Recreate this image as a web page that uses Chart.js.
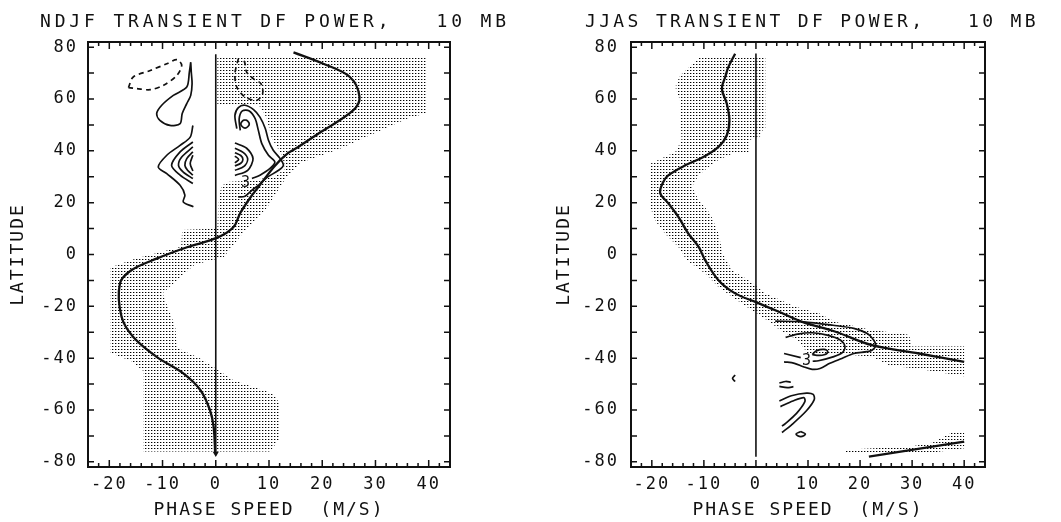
<!DOCTYPE html>
<html>
<head>
<meta charset="utf-8">
<script src="https://cdn.jsdelivr.net/npm/chart.js@4.4.1/dist/chart.umd.min.js"></script>
<style>
html,body{margin:0;padding:0;background:#fff;}
#wrap{position:relative;width:1061px;height:522px;overflow:hidden;background:#fff;}
.pane{position:absolute;top:0;height:522px;}
#pL{left:0;width:530px;}
#pR{left:530px;width:531px;}
canvas{display:block;}
</style>
</head>
<body>
<div id="wrap">
  <div class="pane" id="pL"><canvas id="cL" width="530" height="522"></canvas></div>
  <div class="pane" id="pR"><canvas id="cR" width="531" height="522"></canvas></div>
</div>
<script>
// ---------- axis tick values ----------
const xTickValues = [-20, -10, 0, 10, 20, 30, 40];
const yTickValues = [-80, -60, -40, -20, 0, 20, 40, 60, 80];
const xMinorTicks = [-22, -20, -18, -16, -14, -12, -10, -8, -6, -4, -2, 0, 2, 4, 6, 8, 10, 12, 14, 16, 18, 20, 22, 24, 26, 28, 30, 32, 34, 36, 38, 40, 42];
const yMinorTicks = [-80, -70, -60, -50, -40, -30, -20, -10, 0, 10, 20, 30, 40, 50, 60, 70, 80];

// ---------- NDJF panel (phase speed m/s, latitude) ----------
const ndjfZeroWind = [[-0.1,-77],[-0.4,-66.5],[-1.1,-60],[-2.9,-52.3],[-6.1,-45.9],[-11.1,-39.5],[-15.5,-31.8],[-17.7,-24],[-18,-11.2],[-15.8,-6],[-11,-1.5],[-5.4,2.8],[0.3,6.5],[3.3,10.5],[4.6,16],[6.5,22],[8,26],[11,34],[13.5,39],[15.5,41.5],[19.3,46.7],[25.8,55.6],[27,60.8],[25.2,68.5],[20.2,73.6],[14.6,78]];
const ndjfArrow = [[0,-76.8]];
const ndjfZeroLine = [[0,-77.5],[0,77.3]];
const ndjfShade = [[0.3,76.5],[39.5,76.5],[39.5,54.5],[36,52.5],[30,47],[23,40.5],[16,35.5],[13,29],[9.6,18],[5,8],[1.5,-1],
  [-4,-4],[-10,-15],[-7.6,-28],[-7.3,-36],[-3,-40],[0,-44],[3.3,-48.5],[10.8,-53.6],[12,-57.6],[12,-71],[10.2,-76],
  [-13.6,-76],[-13.6,-45],[-16,-41],[-19.8,-38],[-19.8,-5],[-15,-1.5],[-6.5,3],[-6.3,9.5],[0.3,10],
  [0.5,20],[1,26],[2,28],[6,28.5],[11,30],[13,33],[12.5,38],[10.5,45],[9.5,53],[8,58],[0.3,58],[0.3,76.5]];
const ndjfDashWest = [[-16.4,64.4],[-15.5,68.5],[-12.3,71.0],[-9.2,73.6],[-7.3,75.2],[-6.4,73.0],[-7.3,69.1],[-9.8,65.3],[-12.3,63.6],[-14.8,64.0],[-16.4,64.4]];
const ndjfLoopWest = [[-4.7,74.2],[-4.96,70.4],[-5.45,64.6],[-7.97,61.4],[-10.15,57.6],[-11.1,54.4],[-10.5,51.8],[-8.6,49.8],[-6.7,50.5],[-6.3,54.4],[-5.45,58.2],[-4.7,61.4],[-4.45,65.9],[-4.6,70.4],[-4.7,74.2]];
const ndjfChevron1 = [[-4.3,49.8],[-4.8,45.3],[-6.7,42.1],[-9.2,38.3],[-10.8,33.8],[-9.2,31.2],[-6.7,26.7],[-5.8,22.9],[-6.1,20.3],[-4.2,18.4]];
const ndjfChevron2 = [[-4.3,43.4],[-6.7,39.6],[-8.3,34.4],[-6.7,30.6],[-4.3,27.4]];
const ndjfChevron3 = [[-4.3,41.5],[-6.4,37.6],[-7.0,34.4],[-6.1,31.8],[-4.3,29.3]];
const ndjfChevron4 = [[-4.3,39.6],[-5.45,37.0],[-5.8,34.4],[-5.3,32.5],[-4.3,30.6]];
const ndjfChevron5 = [[-4.3,38.3],[-4.8,35.1],[-4.3,32.2]];
const ndjfDashEast = [[4.25,75.6],[3.6,69.8],[3.95,64.6],[5.5,60.8],[7.7,59.5],[8.8,62.1],[8.5,65.9],[7.1,67.8],[5.8,70.4],[5.5,73.6],[5.2,75.6]];
const ndjfOuterEast = [[4.2,22.2],[5.5,22.5],[6.8,24.8],[8.0,26.7],[9.6,29.7],[11.8,32.5],[12.7,34.4],[12.1,37.0],[10.8,40.2],[9.9,44.1],[9.3,48.6],[8.3,53.0],[7.1,55.9],[5.5,57.6],[4.25,56.7],[3.6,53.7],[3.95,48.6]];
const ndjfMidEast = [[6.8,29.3],[8.3,30.6],[10.2,33.2],[11.1,35.7],[9.9,38.3],[8.65,42.8],[8.0,47.9],[7.4,52.4],[6.3,55.4],[5.0,55.4],[4.4,52.4],[4.6,47.9]];
const ndjfRingEast = [[5.5,52],[6.0,51.5],[6.3,50.4],[6.0,49.3],[5.5,48.8],[5.0,49.3],[4.7,50.4],[5.0,51.5],[5.5,52]];
const ndjfArc1 = [[3.6,43],[5.8,41],[7.0,37],[6.0,32.5],[3.6,30.5]];
const ndjfArc2 = [[3.6,41],[5.2,39.3],[6.0,36.8],[5.3,34],[3.6,32.5]];
const ndjfArc3 = [[3.6,39.3],[4.7,38.2],[5.1,36.7],[4.7,35.2],[3.6,34.2]];
const ndjfArc4 = [[3.6,38],[4.3,36.7],[3.6,35.4]];
const ndjfLabels = [{text:'3', at:[5.6,27.5]}];

// ---------- JJAS panel ----------
const jjasZeroWind = [[40,-41.4],[31.3,-38.2],[22.3,-35],[15.3,-29.8],[8.9,-26],[4.4,-22.1],[-0.1,-18.3],[-4,-15],[-7.2,-9.9],[-9.75,-2.2],[-11,2.9],[-13,8.1],[-14.9,14.5],[-16.8,19.7],[-18.4,23.7],[-17.8,28],[-16.8,30.6],[-13.6,34.4],[-10.1,37.6],[-7.2,41.5],[-5.6,46],[-5.1,51.8],[-5.6,58.2],[-6.55,64],[-5.9,68.5],[-5.3,72.3],[-4,77.5]];
const jjasSouthWind = [[21.7,-78.0],[40,-72.2]];
const jjasZeroLine = [[0,-78],[0,77.6]];
const jjasShade = [[-10.7,76.3],[1.8,76.3],[1.8,48.6],[0.85,47.3],[0.85,45.6],[-1.4,44.1],[-1.4,39.6],[-4.6,38.9],[-7.3,36.4],[-9.1,33.8],[-11.0,30.6],[-12.3,26.1],[-11.0,20.9],[-8.8,15.8],[-7.2,8.1],[-6.4,0.4],[-4.6,-6.1],[-1.4,-9.9],[1.8,-15.0],[7.6,-20.2],[12.1,-22.7],[15.3,-26.0],[22,-29],[29.4,-31],[30,-35.5],[40,-35.5],[40,-47],[32.6,-44.6],[25.6,-42.7],[22.3,-39.5],[17,-38.5],[10,-38.3],[8,-33],[4.5,-29],[3.1,-26.6],[-0.8,-21.5],[-4.6,-16.3],[-7.2,-12.5],[-9.75,-7.3],[-13.3,-2.2],[-14.9,2.9],[-17.5,8.1],[-19.4,13.2],[-20.3,18.3],[-20.3,35],[-15.5,39.6],[-14.3,44.1],[-14.6,59.5],[-15.5,64.6],[-14.6,69.1],[-10.7,76.3]];
const jjasShadeSouth = [[17.2,-75.3],[30,-74],[34,-72.5],[37.5,-68.8],[40,-68.5],[40,-74.8],[33,-76.7],[17.2,-76.7],[17.2,-75.3]];
const jjasOuter = [[3.7,-25.7],[9.1,-26.0],[14.8,-27.3],[18.8,-28.5],[21.4,-30.5],[22.6,-33.0],[23,-35.3],[22,-37.2],[18.8,-38.2],[16.5,-40.1],[14.2,-42.0],[12.3,-44.0],[10.8,-44.3],[9.1,-43.3],[7.4,-42.0],[5.4,-41.4]];
const jjasMidA = [[5.7,-32.0],[8.0,-30.7],[10.8,-30.2],[13.7,-31.1],[16.2,-33.0],[17.1,-35.6],[16.6,-37.9],[14.8,-39.5],[12.0,-41.0],[10.9,-41.2]];
const jjasMidB = [[8.6,-39.8],[5.4,-38.2]];
const jjasLens = [[10.8,-38.6],[11.7,-37.1],[13.1,-36.6],[13.8,-37.5],[13.1,-38.7],[11.7,-38.9],[10.8,-38.6]];
const jjasHookOuter = [[4.5,-56.5],[6.8,-54.5],[9.7,-53.5],[11,-54],[11.2,-56],[9.7,-60.3],[6.8,-65.8],[5,-68.7]];
const jjasHookInner = [[4.7,-58.7],[7.1,-56.5],[9.2,-55.2],[9.4,-56.8],[7.8,-61.3],[5.5,-65.5],[5,-66.2]];
const jjasBitWest = [[-4.0,-46.5],[-4.5,-47.8],[-4.0,-49.0]];
const jjasBitA = [[4.5,-49.6],[5.7,-49.0],[6.7,-49.3]];
const jjasBitB = [[4.5,-50.9],[6.0,-51.4],[7.2,-51.0]];
const jjasRing = [[8.6,-68.3],[9.5,-69.3],[8.6,-70.3],[7.7,-69.3],[8.6,-68.3]];
const jjasLabels = [{text:'3', at:[9.7,-41.2]}];

// ---------- styling / helpers ----------
const INK = '#111';
const MONO = '"DejaVu Sans Mono", "Liberation Mono", monospace';

function makeDotPattern() {
  const c = document.createElement('canvas');
  c.width = 3; c.height = 3;
  const g = c.getContext('2d');
  g.fillStyle = '#000';
  g.fillRect(1, 1, 1, 1);
  g.fillStyle = 'rgba(0,0,0,0.35)';
  g.fillRect(2, 1, 1, 1);
  return document.createElement('canvas').getContext('2d').createPattern(c, 'repeat');
}
const DOTS = makeDotPattern();

const pts = arr => arr.map(p => ({x: p[0], y: p[1]}));
function curve(arr, extra) {
  return Object.assign({
    data: pts(arr), showLine: true, pointRadius: 0, borderColor: INK,
    borderWidth: 1.7, fill: false, tension: 0.3, order: 1
  }, extra || {});
}
function shade(arr) {
  return {data: pts(arr), showLine: true, pointRadius: 0, borderWidth: 0,
    borderColor: 'rgba(0,0,0,0)', backgroundColor: DOTS, fill: 'shape', tension: 0, order: 10};
}

function framePlugin(info) {
  return {
    id: 'frame',
    beforeDraw(chart) { chart.ctx.letterSpacing = '2px'; },
    afterDraw(chart) {
      const {ctx, chartArea: a, scales: {x, y}} = chart;
      ctx.save();
      ctx.letterSpacing = '0px';
      ctx.strokeStyle = INK;
      ctx.lineWidth = 2;
      ctx.strokeRect(a.left, a.top, a.right - a.left, a.bottom - a.top);
      ctx.lineWidth = 1.5;
      ctx.beginPath();
      xMinorTicks.forEach(v => {
        const px = x.getPixelForValue(v);
        const len = xTickValues.includes(v) ? 7 : 4;
        ctx.moveTo(px, a.bottom); ctx.lineTo(px, a.bottom - len);
        ctx.moveTo(px, a.top); ctx.lineTo(px, a.top + len);
      });
      yMinorTicks.forEach(v => {
        const py = y.getPixelForValue(v);
        ctx.moveTo(a.left, py); ctx.lineTo(a.left + 6, py);
        ctx.moveTo(a.right, py); ctx.lineTo(a.right - 6, py);
      });
      ctx.stroke();
      ctx.fillStyle = INK;
      ctx.font = '18px ' + MONO;
      ctx.letterSpacing = info.titleSpacing;
      ctx.textAlign = 'left';
      ctx.textBaseline = 'alphabetic';
      ctx.fillText(info.title, info.titleX, 27);
      ctx.letterSpacing = '0px';
      ctx.font = '15px ' + MONO;
      ctx.textAlign = 'center';
      ctx.textBaseline = 'middle';
      info.labels.forEach(l => {
        ctx.fillText(l.text, x.getPixelForValue(l.at[0]), y.getPixelForValue(l.at[1]));
      });
      ctx.restore();
    }
  };
}

function makeChart(id, datasets, cfg) {
  return new Chart(document.getElementById(id), {
    type: 'scatter',
    data: {datasets},
    options: {
      responsive: false, animation: false, events: [],
      layout: {padding: {left: cfg.padLeft, right: cfg.padRight, top: 42, bottom: 0}},
      plugins: {legend: {display: false}, tooltip: {enabled: false}},
      scales: {
        x: {
          type: 'linear', min: -24, max: 44,
          afterBuildTicks: s => { s.ticks = xTickValues.map(v => ({value: v})); },
          afterFit: s => { s.height = 55; },
          grid: {display: false, drawTicks: false, tickLength: 0},
          border: {display: false},
          ticks: {autoSkip: false, maxRotation: 0, minRotation: 0, padding: 7, color: INK,
            font: {family: MONO, size: 17}, callback: v => String(v)},
          title: {display: true, text: 'PHASE SPEED  (M/S)', color: INK,
            font: {family: MONO, size: 18}, padding: {top: 0, bottom: 1}}
        },
        y: {
          type: 'linear', min: -82, max: 82,
          afterBuildTicks: s => { s.ticks = yTickValues.map(v => ({value: v})); },
          afterFit: s => { s.width = cfg.yWidth; },
          grid: {display: false, drawTicks: false, tickLength: 0},
          border: {display: false},
          ticks: {autoSkip: false, padding: cfg.yPad, color: INK,
            font: {family: MONO, size: 17}, callback: v => String(v)},
          title: {display: true, text: 'LATITUDE', color: INK,
            font: {family: MONO, size: 18}, padding: {top: 8, bottom: 0}}
        }
      }
    },
    plugins: [framePlugin(cfg.frame)]
  });
}

const thick = {borderWidth: 2.3, tension: 0.35};
const dashed = {borderDash: [5, 4]};

makeChart('cL', [
  shade(ndjfShade),
  curve(ndjfZeroLine, {borderWidth: 1.6, tension: 0}),
  curve(ndjfZeroWind, thick),
  {data: pts(ndjfArrow), showLine: false, pointStyle: 'triangle', rotation: 180, pointRadius: 3.5,
    pointBackgroundColor: INK, pointBorderColor: INK, pointBorderWidth: 0, order: 0},
  curve(ndjfDashWest, dashed),
  curve(ndjfLoopWest),
  curve(ndjfChevron1), curve(ndjfChevron2), curve(ndjfChevron3), curve(ndjfChevron4), curve(ndjfChevron5),
  curve(ndjfDashEast, dashed),
  curve(ndjfOuterEast), curve(ndjfMidEast), curve(ndjfRingEast, {tension: 0.4}),
  curve(ndjfArc1), curve(ndjfArc2), curve(ndjfArc3), curve(ndjfArc4)
], {padLeft: 0, padRight: 80, yWidth: 88, yPad: 10,
    frame: {title: 'NDJF TRANSIENT DF POWER,   10 MB', titleX: 40, titleSpacing: '3.85px', labels: ndjfLabels}});

makeChart('cR', [
  shade(jjasShade), shade(jjasShadeSouth),
  curve(jjasZeroLine, {borderWidth: 1.6, tension: 0}),
  curve(jjasZeroWind, thick),
  curve(jjasSouthWind, {borderWidth: 2.3, tension: 0}),
  curve(jjasOuter), curve(jjasMidA), curve(jjasMidB, {tension: 0}), curve(jjasLens, {tension: 0.4}),
  curve(jjasHookOuter), curve(jjasHookInner),
  curve(jjasBitWest), curve(jjasBitA), curve(jjasBitB), curve(jjasRing, {tension: 0.4})
], {padLeft: 16, padRight: 76, yWidth: 85, yPad: 12,
    frame: {title: 'JJAS TRANSIENT DF POWER,   10 MB', titleX: 55, titleSpacing: '3.35px', labels: jjasLabels}});
</script>
</body>
</html>
